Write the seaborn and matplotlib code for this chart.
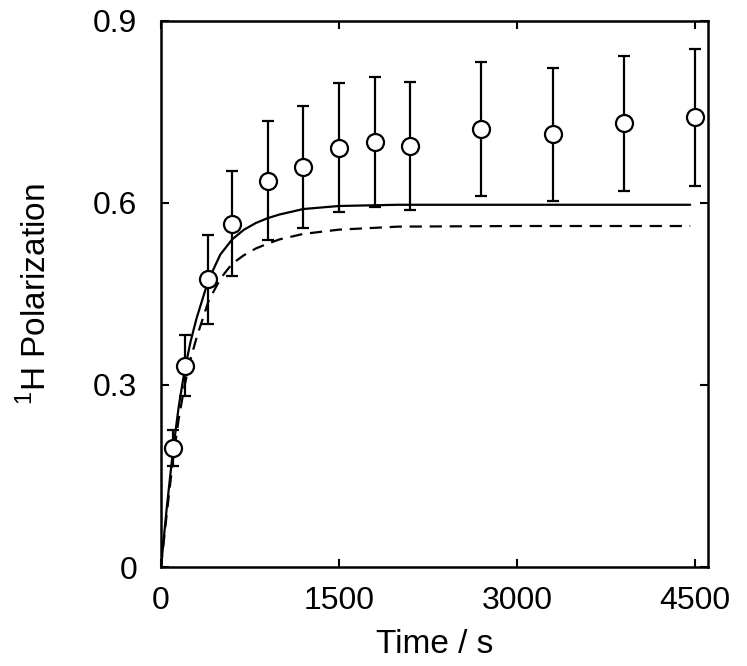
import matplotlib
matplotlib.use("Agg")
import matplotlib.pyplot as plt
import numpy as np
import pandas as pd
import seaborn as sns

# measured points
t_meas = [100, 200, 400, 600, 900, 1200, 1500, 1800, 2100, 2700, 3300, 3900, 4500]
p_meas = [0.196, 0.332, 0.474, 0.566, 0.637, 0.659, 0.691, 0.700, 0.694, 0.722, 0.713, 0.731, 0.741]
p_err = [0.030, 0.050, 0.073, 0.087, 0.098, 0.100, 0.106, 0.107, 0.106, 0.110, 0.109, 0.112, 0.113]

# model curves
t_fit = [0, 50, 100, 150, 200, 250, 300, 400, 500, 600, 700, 800, 900, 1000, 1200, 1500, 2000, 3000, 4460]
p_solid = [0, 0.10, 0.19, 0.265, 0.325, 0.372, 0.41, 0.473, 0.515, 0.540, 0.556, 0.567, 0.575, 0.581,
           0.590, 0.595, 0.597, 0.597, 0.597]
p_dashed = [0, 0.09, 0.175, 0.245, 0.30, 0.343, 0.378, 0.438, 0.475, 0.50, 0.514, 0.525, 0.533, 0.540,
            0.549, 0.556, 0.561, 0.562, 0.562]

sns.set_style("ticks")
plt.rcParams['font.family'] = ['Liberation Sans', 'DejaVu Sans']
plt.rcParams['mathtext.fontset'] = 'custom'
plt.rcParams['mathtext.rm'] = 'Liberation Sans'
plt.rcParams['text.color'] = 'black'
plt.rcParams['axes.labelcolor'] = 'black'
plt.rcParams['axes.edgecolor'] = 'black'
plt.rcParams['xtick.color'] = 'black'
plt.rcParams['ytick.color'] = 'black'

fig = plt.figure(figsize=(7.47, 6.66), dpi=100)
ax = fig.add_axes([0.2155, 0.1486, 0.7323, 0.82])

fits = pd.DataFrame({"t": t_fit, "solid": p_solid, "dashed": p_dashed})
sns.lineplot(data=fits, x="t", y="solid", ax=ax, color="black", lw=1.6)
sns.lineplot(data=fits, x="t", y="dashed", ax=ax, color="black", lw=1.6,
             dashes=False, linestyle=(0, (5.5, 3.5)))

ax.errorbar(t_meas, p_meas, yerr=p_err, fmt="none", ecolor="black",
            elinewidth=1.6, capsize=4, capthick=1.6, zorder=3)
meas = pd.DataFrame({"t": t_meas, "p": p_meas})
sns.scatterplot(data=meas, x="t", y="p", ax=ax, s=150, facecolor="white",
                edgecolor="black", linewidth=1.6, zorder=4)

ax.set_xlim(0, 4610)
ax.set_ylim(0, 0.9)
ax.set_xticks([0, 1500, 3000, 4500])
ax.set_yticks([0, 0.3, 0.6, 0.9])
ax.set_yticklabels(["0", "0.3", "0.6", "0.9"])
ax.tick_params(direction="in", length=6, width=1.5, top=True, right=True,
               labelsize=23)
ax.tick_params(axis="x", pad=14)
ax.tick_params(axis="y", pad=17)
for s in ax.spines.values():
    s.set_linewidth(1.8)
    s.set_edgecolor("black")
    s.set_visible(True)

ax.set_xlabel("Time / s", fontsize=24, labelpad=9)
ax.set_ylabel(r"$^{1}$H Polarization", fontsize=24, labelpad=29)

fig.savefig("out.png", dpi=100)
